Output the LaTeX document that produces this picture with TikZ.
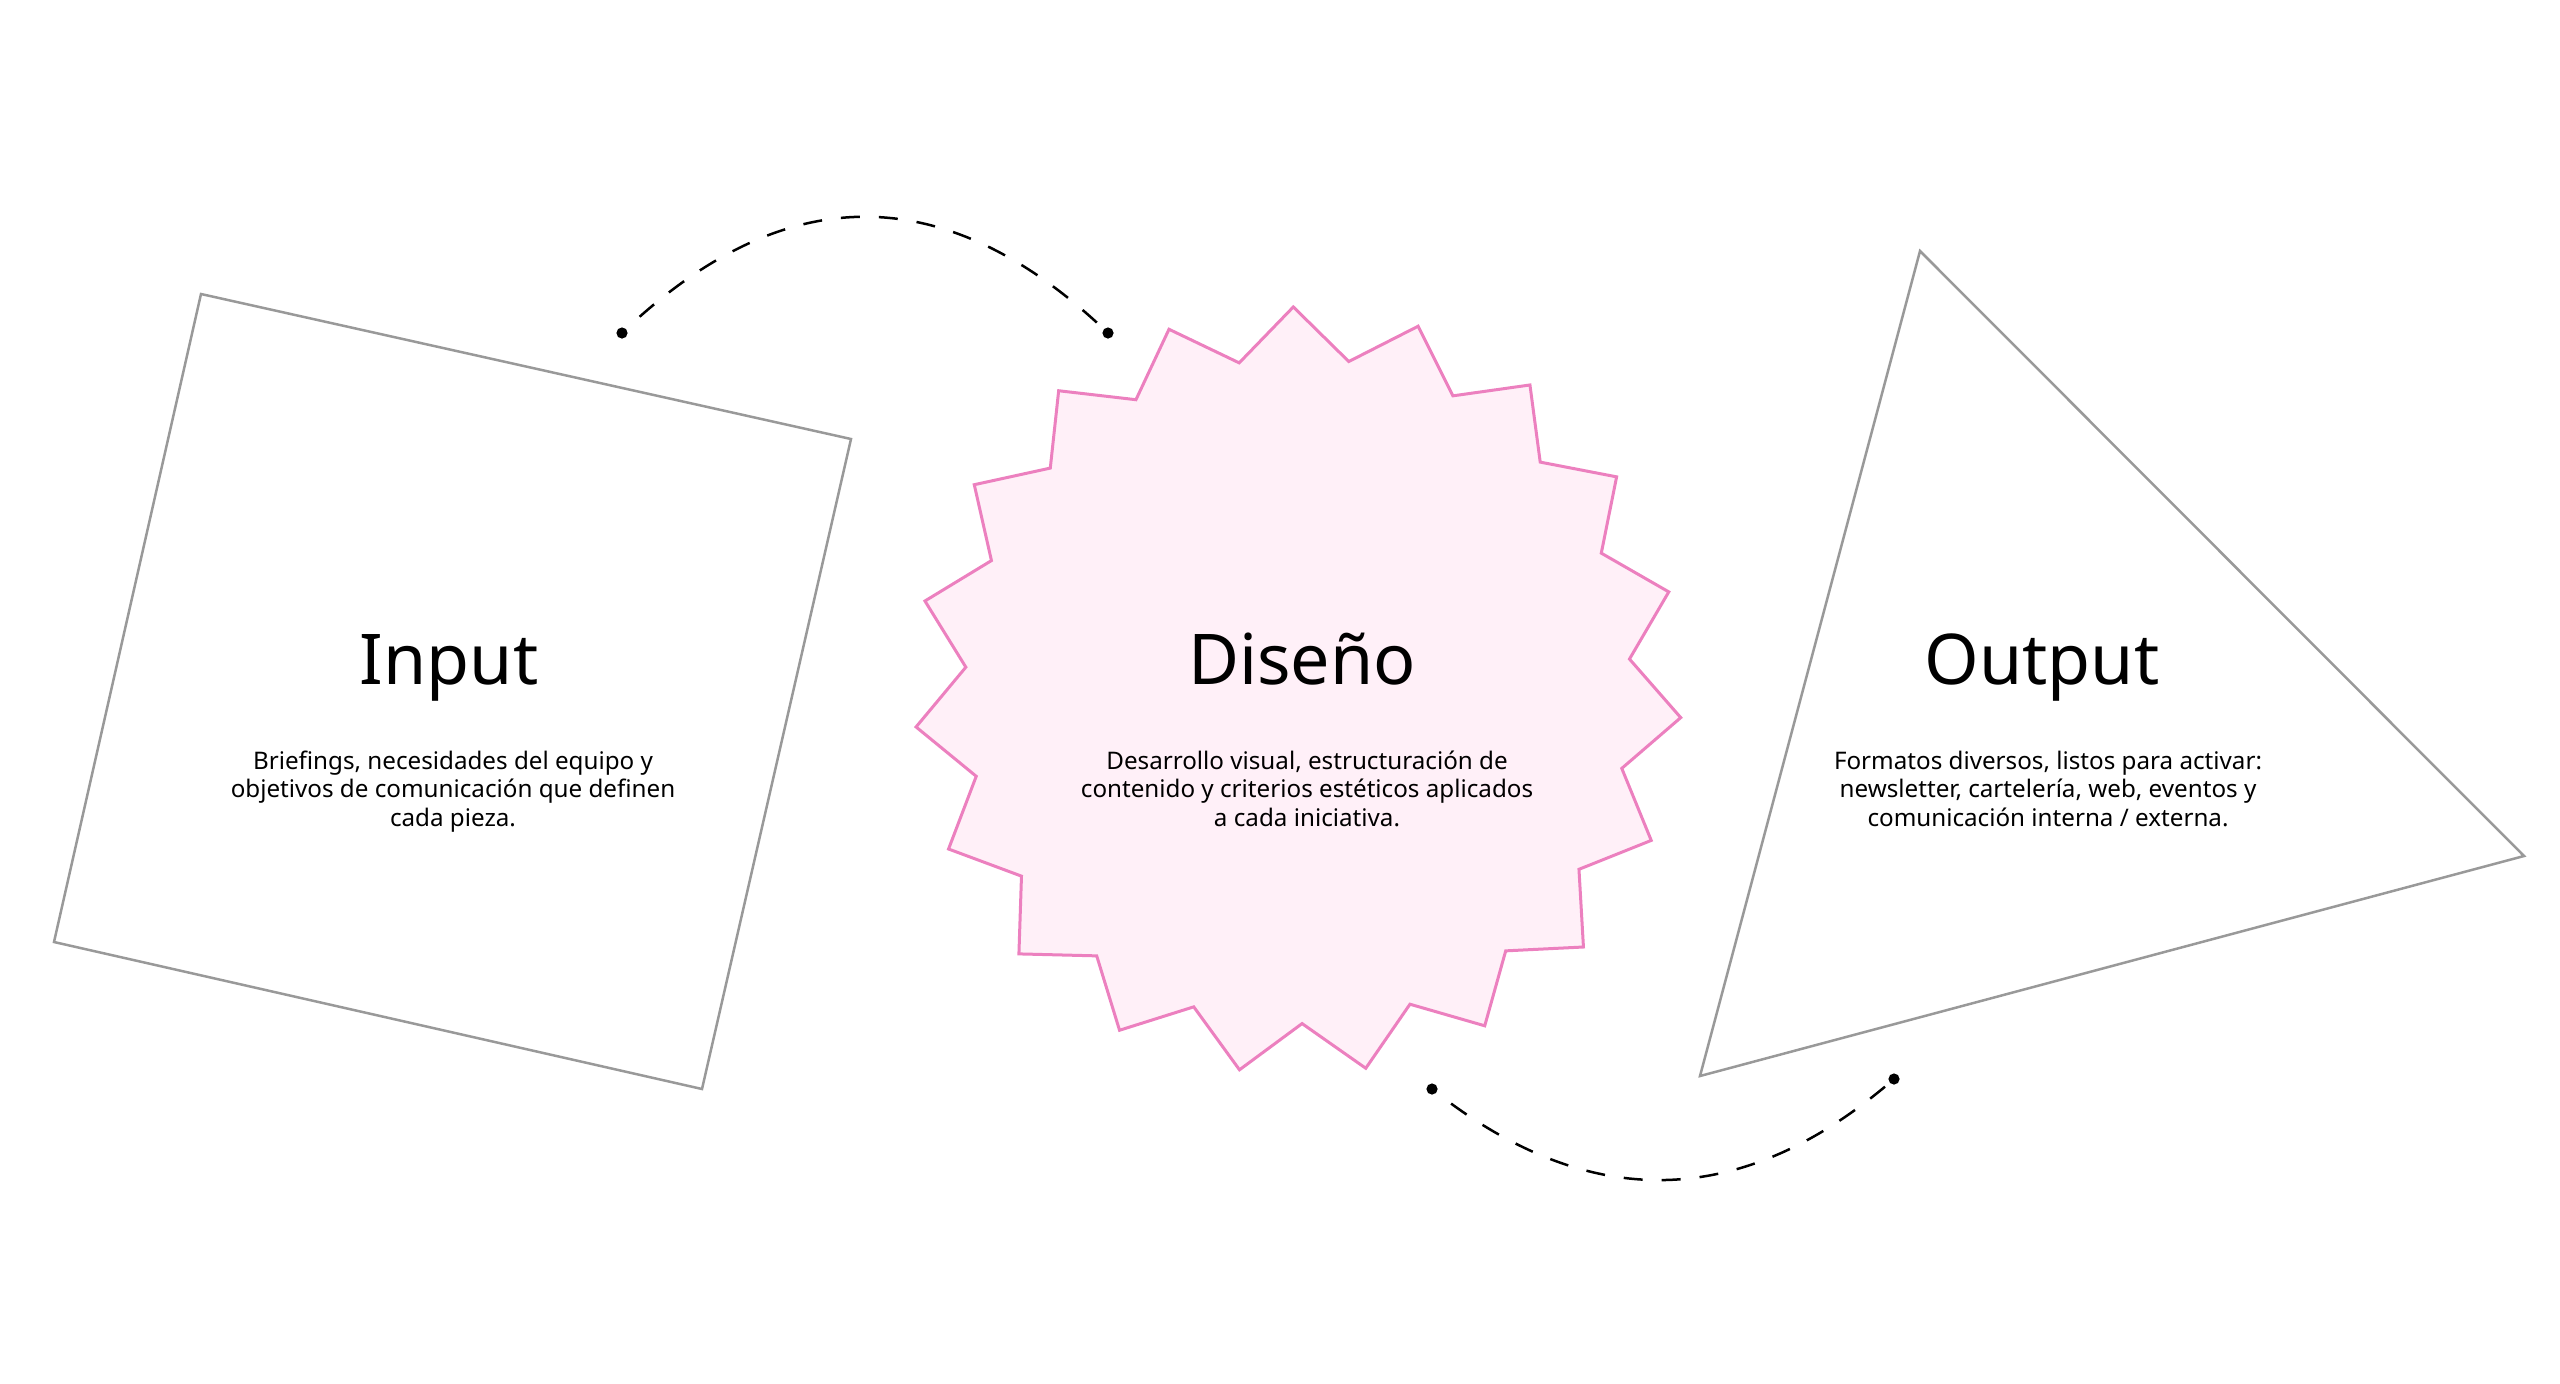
\documentclass[tikz,border=0pt]{standalone}
\usepackage{xcolor}
\usepackage{fontspec}
\setmainfont{Noto Sans}
\usepackage{tikz}

\definecolor{shapegray}{HTML}{999999}
\definecolor{starline}{HTML}{EC80BF}
\definecolor{starfill}{HTML}{FFF0F8}

\begin{document}
\begin{tikzpicture}[x=0.5pt, y=-0.5pt,
    outline/.style={draw=shapegray, line width=1.25pt},
    title/.style={anchor=base, inner sep=0pt, font=\fontsize{35pt}{42pt}\selectfont},
    body/.style={anchor=base, inner sep=0pt, align=center, font=\fontsize{12.1pt}{14.15pt}\selectfont},
    flow/.style={line width=1.25pt, dash pattern=on 9.5pt off 9.5pt, dash phase=7pt},
    dot/.style={circle, fill=black, inner sep=0pt, minimum size=5.6pt}]
    \useasboundingbox (0,0) rectangle (2560,1383);

    \draw[outline] (201,294) -- (851,439) -- (702,1089) -- (54,942) -- cycle;
    \draw[draw=starline, fill=starfill, line width=1.5pt, shift={(1298,690.6)}] (-90.7:383.7)
        \foreach \k in {1,...,19} {
            -- ({-90.7+(\k-0.5)*360/19}:333) -- ({-90.7+\k*360/19}:383.7)
        } -- cycle;
    \draw[outline] (1920,251) -- (2524,856) -- (1700,1076) -- cycle;

    \node[title] (input) at (449,684) {Input};
    \node[title] (diseno) at (1302,684) {Diseño};
    \node[title] (output) at (2042,684) {Output};

    \node[body] (inputtext) at (453,826) {Briefings, necesidades del equipo y\\objetivos de comunicación que definen\\cada pieza.};
    \node[body] (disenotext) at (1307,826) {Desarrollo visual, estructuración de\\contenido y criterios estéticos aplicados\\a cada iniciativa.};
    \node[body] (outputtext) at (2048,826) {Formatos diversos, listos para activar:\\newsletter, cartelería, web, eventos y\\comunicación interna / externa.};

    \node[dot] (inputdot) at (622,333) {};
    \node[dot] (disenoin) at (1108,333) {};
    \node[dot] (disenoout) at (1432,1089) {};
    \node[dot] (outputdot) at (1894,1079) {};

    \draw[flow] (inputdot.center) .. controls (784,178) and (946,178) .. (disenoin.center);
    \draw[flow] (disenoout.center) .. controls (1589,1214) and (1743,1210) .. (outputdot.center);
\end{tikzpicture}
\end{document}
